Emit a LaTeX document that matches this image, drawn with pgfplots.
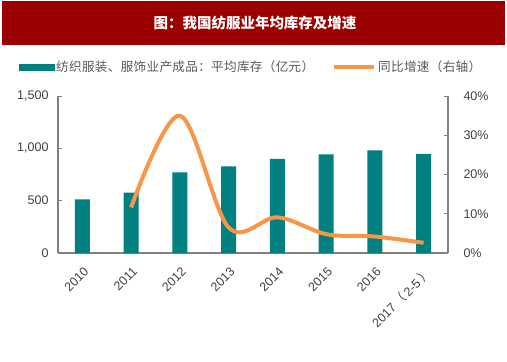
\documentclass[border=0pt]{standalone}
\usepackage{fontspec}
\setmainfont{Liberation Sans}
\newfontfamily\cjk{Noto Sans CJK SC}
\newfontfamily\cjkleg[LetterSpace=2.5]{Noto Sans CJK SC}
\usepackage{pgfplots}
\pgfplotsset{compat=1.18}
\definecolor{barteal}{RGB}{0,128,128}
\definecolor{lineorange}{RGB}{247,150,70}
\definecolor{titlered}{RGB}{155,0,0}
\definecolor{axgrey}{RGB}{128,128,128}
\definecolor{txtgrey}{RGB}{64,64,64}
\definecolor{leggrey}{RGB}{89,89,89}
\begin{document}
\begin{tikzpicture}
\useasboundingbox (0,0) rectangle (507pt,362pt);
\fill[titlered] (2pt,317pt) rectangle (505pt,361pt);
\node[text=white, font=\cjk\bfseries\fontsize{14.5}{16}\selectfont] at (255pt,339pt) {图：我国纺服业年均库存及增速};
\begin{axis}[
  at={(58pt,109pt)}, anchor=south west,
  scale only axis, width=390pt, height=157pt,
  xmin=-0.5, xmax=7.5, ymin=0, ymax=1500,
  axis y line*=left, axis x line*=bottom,
  axis line style={axgrey, line width=1.3pt, -},
  xtick={0,...,7},
  xticklabels={2010,2011,2012,2013,2014,2015,2016,2017\,{\cjk（}\,2-5\,{\cjk）}},
  x tick style={draw=none},
  xticklabel style={rotate=45, anchor=north east, font=\fontsize{12.5}{14}\selectfont, text=txtgrey, xshift=-5.5pt, yshift=-6.5pt},
  ytick={0,500,1000,1500},
  tick align=inside,
  y tick style={axgrey, line width=1pt},
  major tick length=4pt,
  yticklabel style={font=\fontsize{12.5}{14}\selectfont, text=txtgrey, xshift=-6pt},
  /pgf/number format/assume math mode=true,
  /pgf/number format/.cd, 1000 sep={,},
]
\addplot[ybar, bar width=15pt, fill=barteal, draw=none] coordinates {
 (0,512) (1,576) (2,771) (3,828) (4,899) (5,943) (6,981) (7,948)};
\end{axis}
\begin{axis}[
  at={(58pt,109pt)}, anchor=south west,
  scale only axis, width=390pt, height=157pt,
  xmin=-0.5, xmax=7.5, ymin=0, ymax=40,
  axis y line*=right, axis x line=none,
  axis line style={axgrey, line width=1.3pt, -},
  ytick={0,10,20,30,40},
  tick align=inside,
  y tick style={axgrey, line width=1pt},
  major tick length=4pt,
  yticklabel={\pgfmathprintnumber{\tick}\%},
  yticklabel style={font=\fontsize{12.5}{14}\selectfont, text=txtgrey, xshift=12pt},
  /pgf/number format/assume math mode=true,
  legend columns=2,
  legend style={at={(0.495,1.185)}, anchor=center, draw=none, fill=none,
    font=\cjkleg\fontsize{12.6}{14}\selectfont, text=leggrey,
    /tikz/every even column/.append style={column sep=16pt}},
]
\addlegendimage{legend image code/.code={\fill[barteal] (0pt,-3pt) rectangle (35pt,3pt);}}
\addlegendentry{纺织服装、服饰业产成品：平均库存（亿元）}
\addplot[lineorange, line width=4pt, smooth, tension=0.55,
  legend image code/.code={\draw[lineorange, line width=4pt] (0pt,0pt)--(40pt,0pt);}] coordinates {
 (1,11.6) (2,35.0) (3,6.5) (4,9.1) (5,4.8) (6,4.2) (7,2.6)};
\addlegendentry{同比增速（右轴）}
\end{axis}
\end{tikzpicture}
\end{document}
